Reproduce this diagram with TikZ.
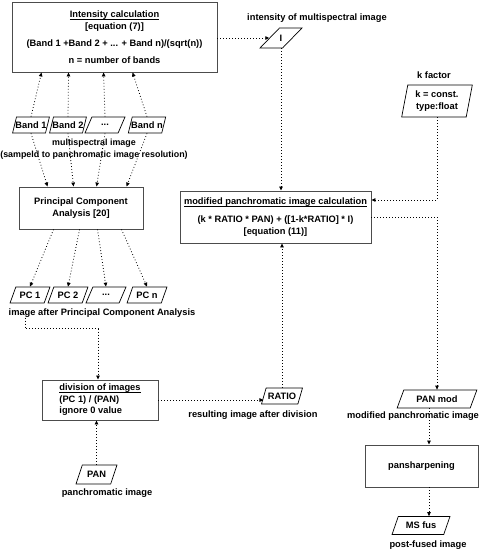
\documentclass[tikz,border=0pt]{standalone}
\usepackage{fontspec}
\setmainfont{Liberation Sans}
\usepackage{tikz}
\usetikzlibrary{
  arrows.meta,
  positioning,
  calc,
  shapes.geometric
}
\newcommand{\dgfont}{\fontsize{9.3}{11.5}\selectfont\bfseries}
\newcommand{\uln}[1]{\setbox0\hbox{#1}\rlap{\rule[-2.2pt]{\wd0}{0.6pt}}\box0}

\begin{document}
\begin{tikzpicture}[x=1pt,y=-1pt,
			bx/.style={draw=black!70, line width=0.9pt, align=center, font=\dgfont,
				inner sep=2pt},
			io/.style={draw, trapezium, trapezium left angle=66, trapezium right angle=114,
				trapezium stretches=true, line width=0.7pt, font=\dgfont, align=center,
				inner xsep=-1pt, inner ysep=1pt, minimum height=16pt},
			lb/.style={font=\dgfont, align=center, inner sep=0pt},
			ar/.style={-{Triangle[length=4pt,width=3.5pt]}, line width=0.8pt,
				dash pattern=on 0.8pt off 2.2pt}
			]
			\useasboundingbox (0,0) rectangle (480,550);
			\node[bx, minimum width=205pt, minimum height=70pt] (intens) at (114.5,37)
			{\uln{Intensity calculation}\\{[equation (7)]}\\[6pt]
				(Band 1 +Band 2 + ... + Band n)/(sqrt(n))\\[5pt] n = number of bands};
			\node[lb] (Ilab) at (317,18) {intensity of multispectral image};
			\node[io, minimum width=42pt, minimum height=20pt] (I) at (281,38) {I};
			\node[lb] (klab) at (434,75) {k factor};
			\node[io, minimum width=71pt, minimum height=32pt, trapezium left angle=79,
				trapezium right angle=101] (k) at (437,101)
			{\fontsize{9.3}{10}\selectfont k = const.\\type:float};
			\node[io] (b1) at (31,125) {Band 1};
			\node[io] (b2) at (68,125) {Band 2};
			\node[io, minimum width=40pt] (b3) at (105,125) {...};
			\node[io] (b4) at (147,125) {Band n};
			\node[lb, font=\fontsize{8.9}{11.5}\selectfont\bfseries] (blab) at (94,149)
			{multispectral image\\(sampeld to panchromatic image resolution)};
			\node[bx, minimum width=124pt, minimum height=42pt] (pca) at (81,208)
			{Principal Component\\Analysis [20]};
			\node[bx, minimum width=191pt, minimum height=52pt] (modpan) at (275.5,217)
			{\uln{modified panchromatic image calculation}\\[7pt]
				(k * RATIO * PAN) + ([1-k*RATIO] * I)\\{[equation (11)]}};
			\node[io, minimum width=40pt] (pc1) at (30,295) {PC 1};
			\node[io, minimum width=40pt] (pc2) at (68,295) {PC 2};
			\node[io, minimum width=40pt] (pc3) at (106,295) {...};
			\node[io, minimum width=40pt] (pc4) at (147,295) {PC n};
			\node[lb] (pclab) at (102,313) {image after Principal Component Analysis};
			\node[bx, minimum width=116pt, minimum height=40pt, align=left] (div) at (100,400)
			{\uln{division of images}\\(PC 1) / (PAN)\\ignore 0 value};
			\node[io, minimum width=41pt, minimum height=19pt] (pan) at (96.5,474.5) {PAN};
			\node[lb] (panlab) at (107,493) {panchromatic image};
			\node[io, minimum width=41pt] (ratio) at (282,396) {RATIO};
			\node[lb] (ratiolab) at (253,415) {resulting image after division};
			\node[io, minimum width=80pt, minimum height=18pt] (panmod) at (437,399) {PAN mod};
			\node[lb] (panmodlab) at (413,416) {modified panchromatic image};
			\node[bx, minimum width=113pt, minimum height=42pt] (pansh) at (421.5,466) {pansharpening};
			\node[io, minimum width=58pt, minimum height=18pt] (msfus) at (421,525.5) {MS fus};
			\node[lb] (msfuslab) at (428,545) {post-fused image};
			\draw[ar] (intens.east |- I.west) -- (I.west);
			\draw[ar] (b1.north) -- ([xshift=30pt]intens.south west); \draw[ar] (b2.north) -- ([xshift=57pt]intens.south west);
			\draw[ar] (b3.north) -- ([xshift=92pt]intens.south west); \draw[ar] (b4.north) -- ([xshift=121pt]intens.south west);
			\draw[ar] (b1.south) -- ([xshift=29pt]pca.north west); \draw[ar] (b2.south) -- ([xshift=55pt]pca.north west);
			\draw[ar] (b3.south) -- ([xshift=78pt]pca.north west); \draw[ar] (b4.south) -- ([xshift=108pt]pca.north west);
			\draw[ar] ([xshift=35pt]pca.south west) -- (pc1.north); \draw[ar] ([xshift=61pt]pca.south west) -- (pc2.north);
			\draw[ar] ([xshift=79pt]pca.south west) -- (pc3.north); \draw[ar] ([xshift=103pt]pca.south west) -- (pc4.north);
			\draw[ar] ([xshift=-5pt]pclab.south -| pc1) -- ++(0,11) -| ([xshift=-2pt]div.north);
			\draw[ar] (pan.north) -- (pan.north |- div.south);
			\draw[ar] (div.east) -- (div.east -| ratio.west);
			\draw[ar] (ratio.north) -- (ratio.north |- modpan.south);
			\draw[ar] (I.south) -- (I.south |- modpan.north);
			\draw[ar] (k.south) |- ([yshift=17pt]modpan.east);
			\draw[ar] (modpan.east) -| (panmod.north);
			\draw[ar] ([xshift=-8pt]panmod.south) -- ([xshift=-8pt]panmod.south |- pansh.north);
			\draw[ar] ([xshift=-8pt]panmod.south |- pansh.south) -- ([xshift=-8pt]panmod.south |- msfus.north);
\end{tikzpicture}
\end{document}
